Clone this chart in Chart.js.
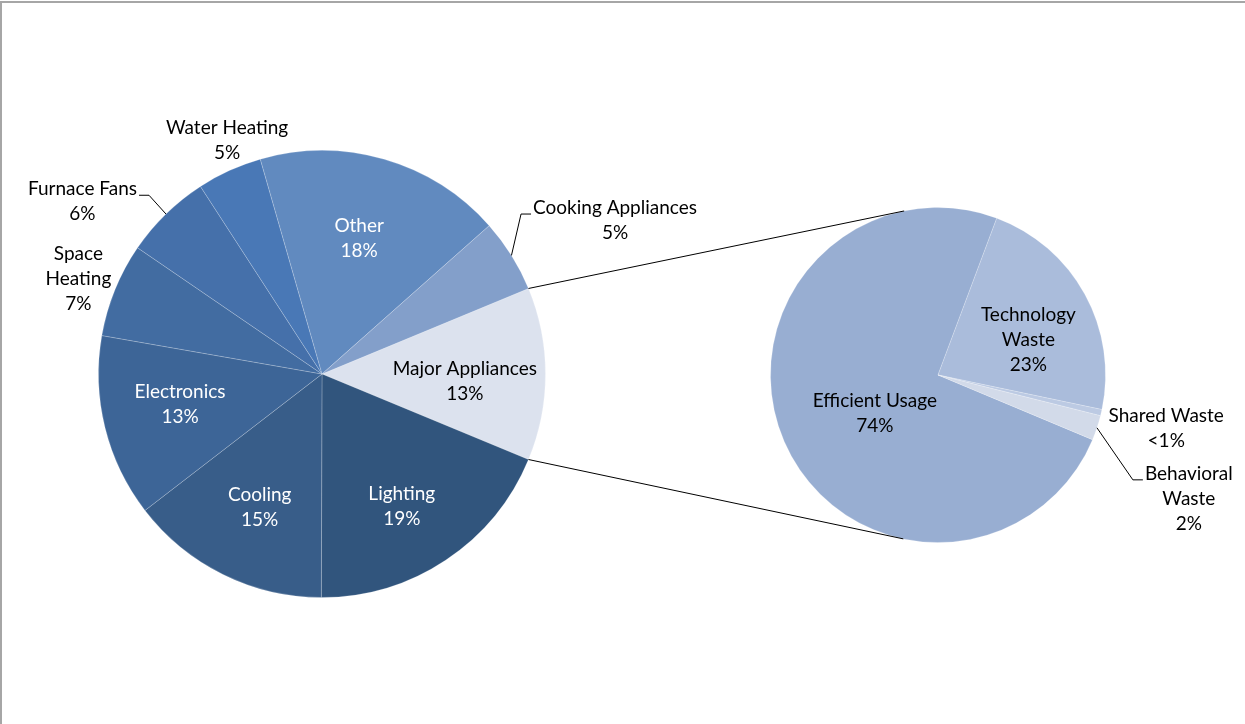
<!DOCTYPE html>
<html>
<head>
<meta charset="utf-8">
<script src="https://cdn.jsdelivr.net/npm/chart.js"></script>
<style>
  html, body { margin: 0; padding: 0; background: #fff; overflow: hidden; }
  #frame { position: absolute; left: 0; top: 1px; width: 1300px; height: 800px; border-top: 2px solid #a6a6a6; border-left: 2px solid #a6a6a6; }
  canvas { position: absolute; left: 0; top: 0; }
</style>
</head>
<body>
<div id="frame"></div>
<canvas id="mainPie" width="1245" height="724"></canvas>
<canvas id="subPie" width="1245" height="724"></canvas>
<script>
    // main pie (share of home energy use)
    const mainCategories = ['Major Appliances', 'Lighting', 'Cooling', 'Electronics', 'Space Heating', 'Furnace Fans', 'Water Heating', 'Other', 'Cooking Appliances'];
    const mainValues = [12.5, 18.8, 14.5, 13.2, 6.8, 6.3, 4.7, 17.9, 5.3];
    const mainShown = ['13%', '19%', '15%', '13%', '7%', '6%', '5%', '18%', '5%'];

    // second pie (breakdown of major appliances)
    const subCategories = ['Efficient Usage', 'Technology Waste', 'Shared Waste', 'Behavioral Waste'];
    const subValues = [74.4, 22.6, 0.6, 2.4];
    const subShown = ['74%', '23%', '<1%', '2%'];

    const mainColors = ['#dce2ee', '#31557d', '#385d89', '#3d6597', '#426ca1', '#4570aa', '#4978b6', '#618abf', '#839fca'];
    const subColors = ['#98aed2', '#aabcdb', '#bccae3', '#d2dae9'];

    // label placement: r = fraction of radius, da = angle shift (deg) from slice middle
    const mainLabelStyle = [
        { r: 0.64, da: 3, color: '#000' },
        { r: 0.69, da: 2.5, color: '#fff' },
        { r: 0.66, da: -1.3, color: '#fff' },
        { r: 0.65, da: 1.6, color: '#fff' },
        { r: 1.17, da: -0.8, color: '#000', split: true },
        { r: 1.32, da: -10, color: '#000', leader: 'right' },
        { r: 1.13, da: 2.4, color: '#000' },
        { r: 0.63, da: -0.9, color: '#fff' },
        { r: 1.48, da: 4.4, color: '#000', leader: 'left' }
    ];
    const subLabelStyle = [
        { r: 0.44, da: -7.6, color: '#000' },
        { r: 0.58, da: 7.3, color: '#000', split: true },
        { r: 1.40, da: 0.3, color: '#000' },
        { r: 1.67, da: 7.9, color: '#000', split: true, leader: 'left' }
    ];

    const FONT = '19px Lato';
    const LINE_H = 25;

    function labelPlugin(cats, shown, styles) {
        return {
            id: 'sliceLabels',
            afterDatasetsDraw(chart) {
                const ctx = chart.ctx;
                const arcs = chart.getDatasetMeta(0).data;
                ctx.save();
                ctx.font = FONT;
                ctx.textAlign = 'center';
                ctx.textBaseline = 'middle';
                arcs.forEach((arc, i) => {
                    const s = styles[i];
                    const p = arc.getProps(['x', 'y', 'startAngle', 'endAngle', 'outerRadius']);
                    const mid = (p.startAngle + p.endAngle) / 2;
                    const a = mid + s.da * Math.PI / 180;
                    const cx = p.x + Math.cos(a) * p.outerRadius * s.r;
                    const cy = p.y + Math.sin(a) * p.outerRadius * s.r;
                    const lines = (s.split ? cats[i].split(' ') : [cats[i]]).concat(shown[i]);
                    const top = cy - (lines.length - 1) * LINE_H / 2;
                    ctx.fillStyle = s.color;
                    lines.forEach((t, k) => ctx.fillText(t, cx, top + k * LINE_H));

                    if (s.leader) {
                        const w = ctx.measureText(lines[0]).width;
                        const dir = s.leader === 'right' ? 1 : -1;
                        const x0 = cx + dir * (w / 2 + 2);
                        const y0 = top + 6;
                        const ex = p.x + Math.cos(mid) * p.outerRadius;
                        const ey = p.y + Math.sin(mid) * p.outerRadius;
                        ctx.beginPath();
                        ctx.moveTo(x0, y0);
                        ctx.lineTo(x0 + dir * 10, y0);
                        ctx.lineTo(ex, ey);
                        ctx.strokeStyle = '#000';
                        ctx.lineWidth = 1;
                        ctx.stroke();
                    }
                });
                ctx.restore();
            }
        };
    }

    function pieOptions(rotation, padding) {
        return {
            responsive: false,
            animation: false,
            events: [],
            rotation: rotation,
            layout: { padding: padding },
            plugins: { legend: { display: false }, tooltip: { enabled: false } }
        };
    }

    let mainChart = new Chart(document.getElementById('mainPie'), {
        type: 'pie',
        data: {
            labels: mainCategories,
            datasets: [{ data: mainValues, backgroundColor: mainColors, borderColor: 'rgba(255,255,255,0.2)', borderWidth: 1, hoverOffset: 0 }]
        },
        options: pieOptions(67.5, { left: 98, top: 150, right: 699, bottom: 126 }),
        plugins: [labelPlugin(mainCategories, mainShown, mainLabelStyle)]
    });

    // lines from the split slice to the tangents of the second pie
    const connectorPlugin = {
        id: 'connectors',
        afterDraw(chart) {
            const big = mainChart.getDatasetMeta(0).data[0].getProps(['x', 'y', 'startAngle', 'endAngle', 'outerRadius']);
            const small = chart.getDatasetMeta(0).data[0].getProps(['x', 'y', 'outerRadius']);
            const ctx = chart.ctx;
            ctx.save();
            ctx.strokeStyle = '#000';
            ctx.lineWidth = 1;
            [[big.startAngle, 1], [big.endAngle, -1]].forEach(([ang, sign]) => {
                const px = big.x + Math.cos(ang) * big.outerRadius;
                const py = big.y + Math.sin(ang) * big.outerRadius;
                const d = Math.hypot(px - small.x, py - small.y);
                const base = Math.atan2(py - small.y, px - small.x);
                const t = base + sign * Math.acos(small.outerRadius / d);
                ctx.beginPath();
                ctx.moveTo(px, py);
                ctx.lineTo(small.x + Math.cos(t) * small.outerRadius, small.y + Math.sin(t) * small.outerRadius);
                ctx.stroke();
            });
            ctx.restore();
        }
    };

    let subChart = new Chart(document.getElementById('subPie'), {
        type: 'pie',
        data: {
            labels: subCategories,
            datasets: [{ data: subValues, backgroundColor: subColors, borderColor: 'rgba(255,255,255,0.2)', borderWidth: 1, hoverOffset: 0 }]
        },
        options: pieOptions(112.7, { left: 770, top: 207, right: 139, bottom: 181 }),
        plugins: [labelPlugin(subCategories, subShown, subLabelStyle), connectorPlugin]
    });
</script>
</body>
</html>
